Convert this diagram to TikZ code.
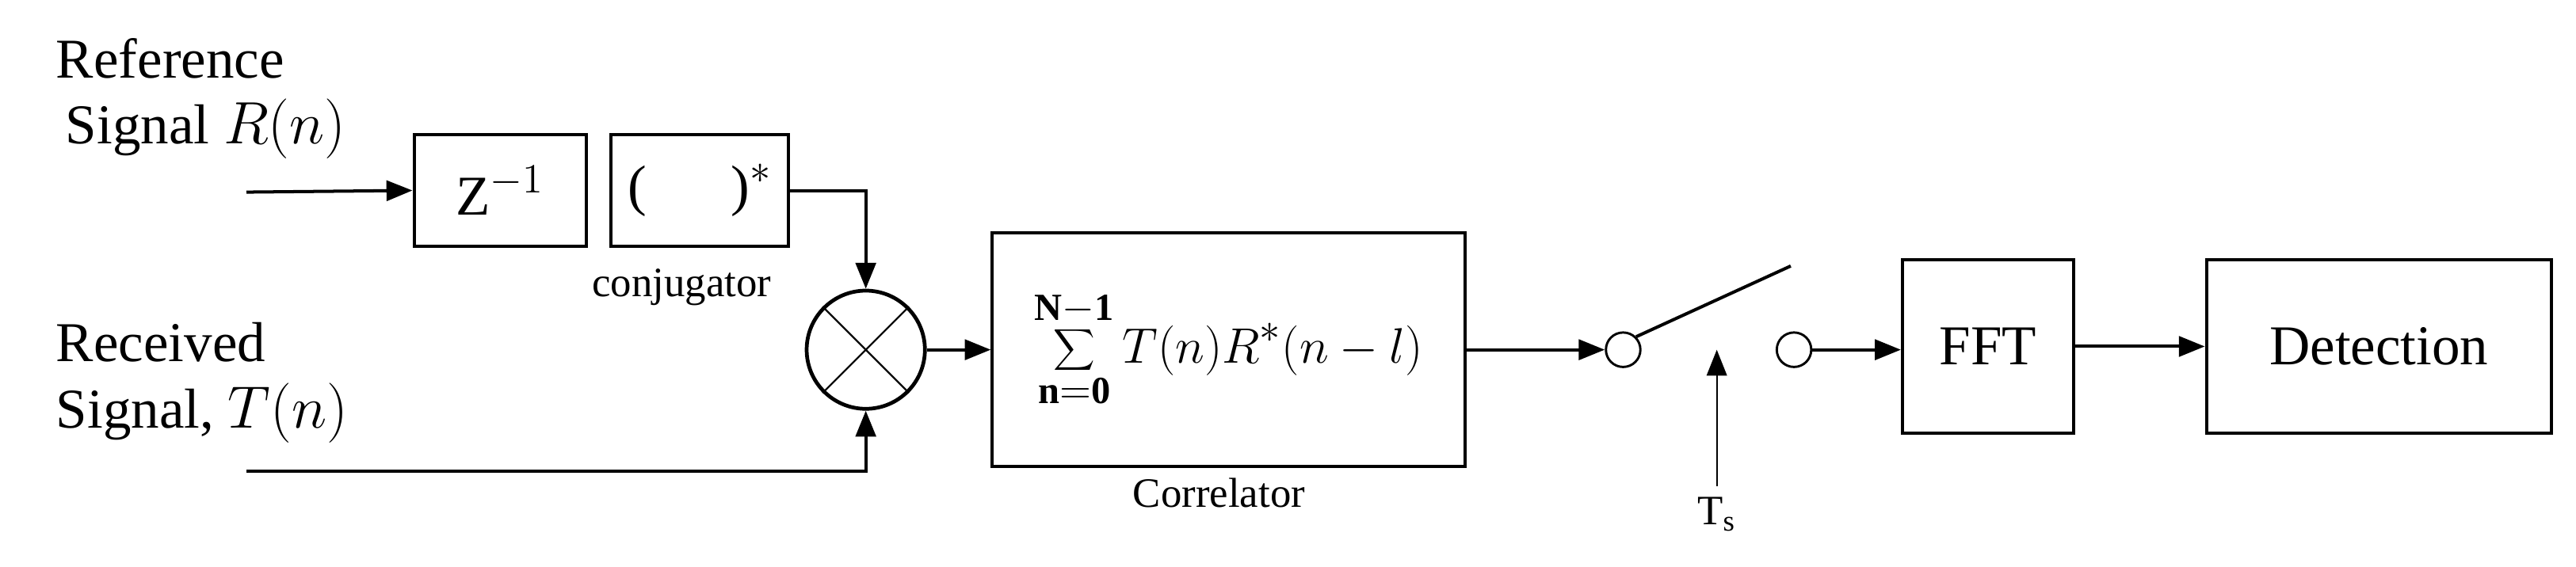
\documentclass[tikz,border=0pt]{standalone}
\usepackage{fontspec}
\setmainfont{Liberation Serif}
\usetikzlibrary{arrows.meta}
\begin{document}
\begin{tikzpicture}[x=0.02cm,y=-0.02cm,
  box/.style={draw,line width=1.1pt,inner sep=0pt},
  ln/.style={line width=1.1pt},
  arr/.style={ln,-{Triangle[length=9pt,width=7pt]}},
  lbl/.style={font=\fontsize{19.5}{23}\selectfont},
  small/.style={font=\fontsize{14.5}{17}\selectfont}]
\useasboundingbox (0,0) rectangle (1568,345.3);
\node[lbl,align=left,anchor=west] (reft) at (28,60) {Reference\\ \,Signal $R(n)$};
\node[lbl,align=left,anchor=west] (rect) at (28,233) {Received\\ Signal, $T(n)$};
\coordinate (rin) at (150,117);
\coordinate (tin) at (150,287);
\node[box,minimum width=2.1cm,minimum height=1.36cm,lbl] (z) at (304.5,116) {Z$^{-1}$};
\node[box,minimum width=2.16cm,minimum height=1.36cm,lbl] (c) at (426,116) {(\hspace{1.5em})$^{*}$};
\node[small] (cl) at (415,175) {conjugator};
\node[draw,circle,line width=1.3pt,minimum size=1.44cm,inner sep=0pt] (m) at (527,213) {};
\draw[line width=0.6pt] (m.45) -- (m.225) (m.135) -- (m.315);
\node[box,minimum width=5.76cm,minimum height=2.84cm] (corr) at (748,213)
  {\fontsize{19}{22}\selectfont$\displaystyle\sum_{\mathbf{n=0}}^{\mathbf{N-1}} T(n)R^{*}(n-l)$};
\node[small] (cort) at (742,300) {Correlator};
\node[draw,circle,line width=0.8pt,minimum size=0.42cm,inner sep=0pt] (s1) at (988,213) {};
\node[draw,circle,line width=0.8pt,minimum size=0.42cm,inner sep=0pt] (s2) at (1092,213) {};
\coordinate (sw) at (1090,162);
\coordinate (tsb) at (1045,296);
\node[small] (ts) at (1045,313) {T$_\mathrm{s}$};
\node[box,minimum width=2.08cm,minimum height=2.12cm,lbl] (fft) at (1210,211) {FFT};
\node[box,minimum width=4.2cm,minimum height=2.12cm,lbl] (det) at (1448,211) {Detection};
\draw[arr] (rin) -- (z.west);
\draw[arr] (c.east) -| (m.north);
\draw[arr] (tin) -| (m.south);
\draw[arr] (m.east) -- (corr.west |- m.east);
\draw[arr] (corr.east |- s1.west) -- (s1.west);
\draw[ln] (s1.north east) -- (sw);
\draw[line width=0.6pt,-{Triangle[length=9pt,width=7pt]}] (tsb) -- (1045,213);
\draw[arr] (s2.east) -- (fft.west |- s2.east);
\draw[arr] (fft.east) -- (det.west);
\end{tikzpicture}
\end{document}
